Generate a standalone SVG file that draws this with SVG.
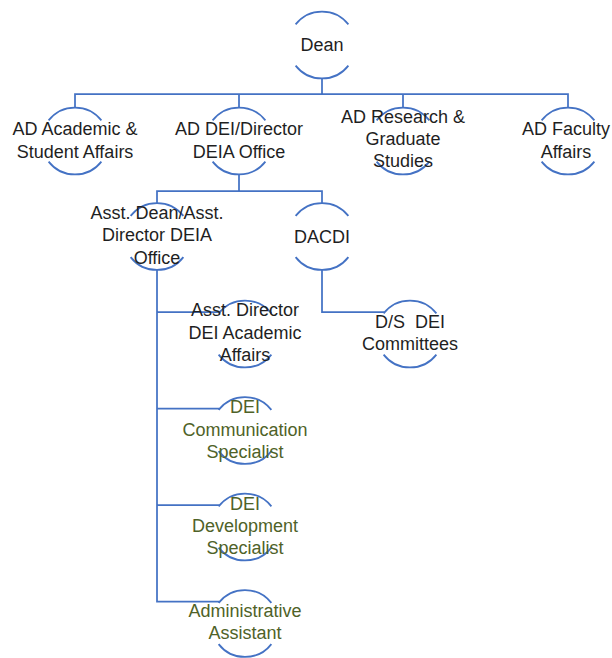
<svg xmlns="http://www.w3.org/2000/svg" width="612" height="658" viewBox="0 0 612 658">
<style>
.bg{fill:#ffffff}
.arc{fill:none;stroke:#4472C4;stroke-width:1.75}
.ln{fill:none;stroke:#4472C4;stroke-width:1.75}
text{font-family:"Liberation Sans",Arial,sans-serif;font-size:18px;fill:#1f1f1f;text-anchor:middle;white-space:pre}
text.g{fill:#4F6228}
</style>
<rect class="bg" x="0" y="0" width="612" height="658"/>
<g id="connectors">
<path class="ln" d="M322 78.5V94M75 107.5V94H568V107.5M239 94V107.5M403 94V107.5"/>
<path class="ln" d="M239 174.5V191M157 203V191H322V203"/>
<path class="ln" d="M322 270V312H384.5"/>
<path class="ln" d="M157 270V601.5H219.5M157 312H219.5M157 408.5H219.5M157 505H219.5"/>
</g>
<g id="dean">
<path class="arc" d="M295.6 24.4A33.5 33.5 0 0 1 348.4 24.4M295.6 65.6A33.5 33.5 0 0 0 348.4 65.6"/>
<text x="322" y="51">Dean</text>
</g>
<g id="ad-academic">
<path class="arc" d="M48.6 120.4A33.5 33.5 0 0 1 101.4 120.4M48.6 161.6A33.5 33.5 0 0 0 101.4 161.6"/>
<text x="75" y="135">AD Academic &amp;</text>
<text x="75" y="157.5">Student Affairs</text>
</g>
<g id="ad-dei">
<path class="arc" d="M212.6 120.4A33.5 33.5 0 0 1 265.4 120.4M212.6 161.6A33.5 33.5 0 0 0 265.4 161.6"/>
<text x="239" y="135">AD DEI/Director</text>
<text x="239" y="157.5">DEIA Office</text>
</g>
<g id="ad-research">
<path class="arc" d="M376.6 120.4A33.5 33.5 0 0 1 429.4 120.4M376.6 161.6A33.5 33.5 0 0 0 429.4 161.6"/>
<text x="403" y="122.5">AD Research &amp;</text>
<text x="403" y="145">Graduate</text>
<text x="403" y="167">Studies</text>
</g>
<g id="ad-faculty">
<path class="arc" d="M541.6 120.4A33.5 33.5 0 0 1 594.4 120.4M541.6 161.6A33.5 33.5 0 0 0 594.4 161.6"/>
<text x="566" y="135">AD Faculty</text>
<text x="566" y="157.5">Affairs</text>
</g>
<g id="asst-dean">
<path class="arc" d="M130.6 215.9A33.5 33.5 0 0 1 183.4 215.9M130.6 257.1A33.5 33.5 0 0 0 183.4 257.1"/>
<text x="157" y="218.5">Asst. Dean/Asst.</text>
<text x="157" y="241">Director DEIA</text>
<text x="157" y="263.5">Office</text>
</g>
<g id="dacdi">
<path class="arc" d="M295.6 215.9A33.5 33.5 0 0 1 348.4 215.9M295.6 257.1A33.5 33.5 0 0 0 348.4 257.1"/>
<text x="322" y="243">DACDI</text>
</g>
<g id="asst-director-academic">
<path class="arc" d="M218.6 313.4A33.5 33.5 0 0 1 271.4 313.4M218.6 354.6A33.5 33.5 0 0 0 271.4 354.6"/>
<text x="245" y="316">Asst. Director</text>
<text x="245" y="338.5">DEI Academic</text>
<text x="245" y="361">Affairs</text>
</g>
<g id="ds-committees">
<path class="arc" d="M383.6 313.4A33.5 33.5 0 0 1 436.4 313.4M383.6 354.6A33.5 33.5 0 0 0 436.4 354.6"/>
<text x="410" y="327.5">D/S  DEI</text>
<text x="410" y="349.5">Committees</text>
</g>
<g id="dei-communication">
<path class="arc" d="M218.6 409.9A33.5 33.5 0 0 1 271.4 409.9M218.6 451.1A33.5 33.5 0 0 0 271.4 451.1"/>
<text class="g" x="245" y="413">DEI</text>
<text class="g" x="245" y="435.5">Communication</text>
<text class="g" x="245" y="457.5">Specialist</text>
</g>
<g id="dei-development">
<path class="arc" d="M218.6 506.4A33.5 33.5 0 0 1 271.4 506.4M218.6 547.6A33.5 33.5 0 0 0 271.4 547.6"/>
<text class="g" x="245" y="509.5">DEI</text>
<text class="g" x="245" y="532">Development</text>
<text class="g" x="245" y="554">Specialist</text>
</g>
<g id="admin-assistant">
<path class="arc" d="M218.6 602.9A33.5 33.5 0 0 1 271.4 602.9M218.6 644.1A33.5 33.5 0 0 0 271.4 644.1"/>
<text class="g" x="245" y="617">Administrative</text>
<text class="g" x="245" y="639">Assistant</text>
</g>
</svg>
